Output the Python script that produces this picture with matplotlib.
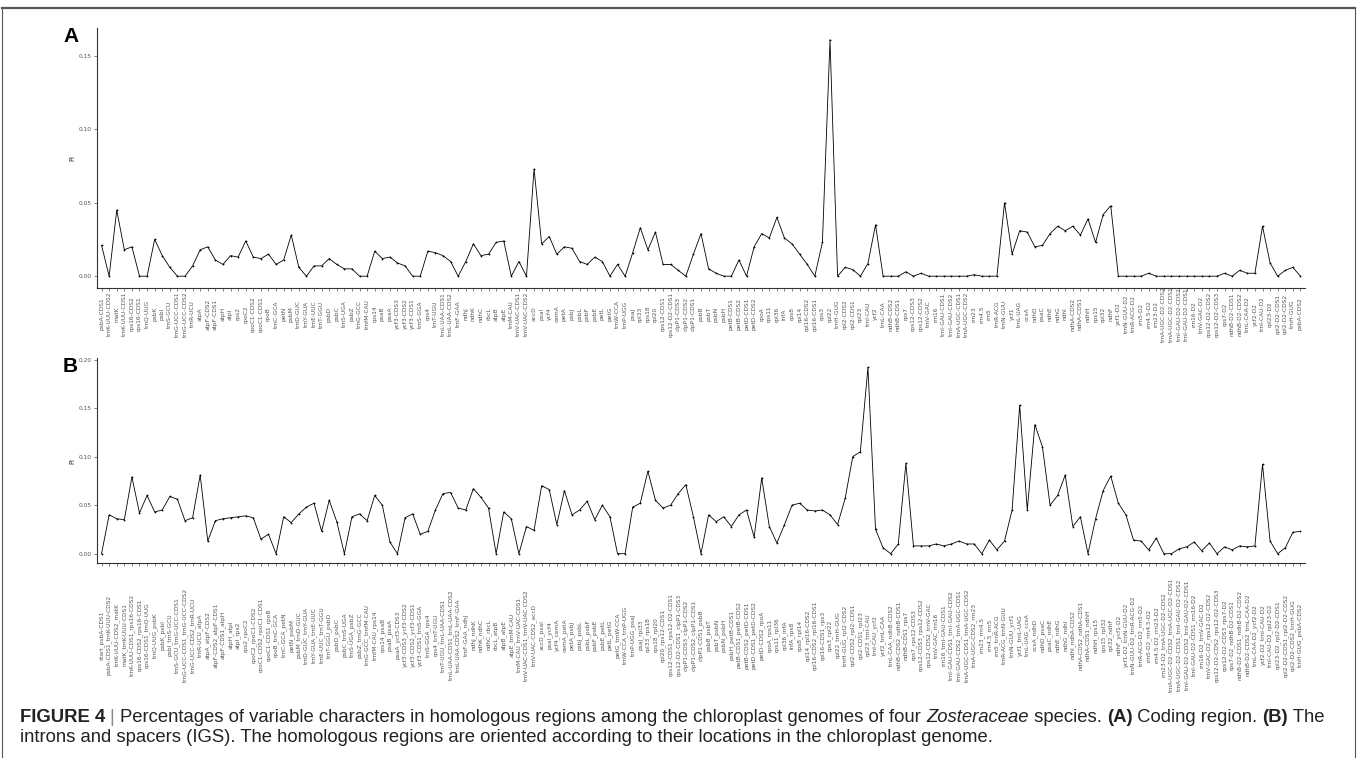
import matplotlib
matplotlib.use("Agg")
import matplotlib.pyplot as plt
import matplotlib.transforms as mtransforms
from matplotlib.lines import Line2D

# gene order along the chloroplast genome (panel A tick labels)
genes = [
    "psbA-CDS1", "trnK-UUU-CDS2", "matK", "trnK-UUU-CDS1", "rps16-CDS2", "rps16-CDS1", "trnQ-UUG",
    "psbK", "psbI", "trnS-GCU", "trnG-UCC-CDS1", "trnG-UCC-CDS2", "trnR-UCU", "atpA", "atpF-CDS2",
    "atpF-CDS1", "atpH", "atpI", "rps2", "rpoC2", "rpoC1-CDS2", "rpoC1-CDS1", "rpoB", "trnC-GCA",
    "petN", "psbM", "trnD-GUC", "trnY-GUA", "trnE-UUC", "trnT-GGU", "psbD", "psbC", "trnS-UGA",
    "psbZ", "trnG-GCC", "trnfM-CAU", "rps14", "psaB", "psaA", "ycf3-CDS3", "ycf3-CDS2", "ycf3-CDS1",
    "trnS-GGA", "rps4", "trnT-UGU", "trnL-UAA-CDS1", "trnL-UAA-CDS2", "trnF-GAA", "ndhJ", "ndhK",
    "ndhC", "rbcL", "atpB", "atpE", "trnM-CAU", "trnV-UAC-CDS1", "trnV-UAC-CDS2", "accD", "psaI",
    "ycf4", "cemA", "petA", "psbJ", "psbL", "psbF", "psbE", "petL", "petG", "trnW-CCA", "trnP-UGG",
    "psaJ", "rpl33", "rps18", "rpl20", "rps12-CDS1", "rps12-D2-CDS1", "clpP1-CDS3", "clpP1-CDS2",
    "clpP1-CDS1", "psbB", "psbT", "psbN", "psbH", "petB-CDS1", "petB-CDS2", "petD-CDS1", "petD-CDS2",
    "rpoA", "rps11", "rpl36", "infA", "rps8", "rpl14", "rpl16-CDS2", "rpl16-CDS1", "rps3", "rpl22",
    "trnH-GUG", "rpl2-CDS2", "rpl2-CDS1", "rpl23", "trnI-CAU", "ycf2", "trnL-CAA", "ndhB-CDS2",
    "ndhB-CDS1", "rps7", "rps12-CDS3", "rps12-CDS2", "trnV-GAC", "rrn16", "trnI-GAU-CDS1",
    "trnI-GAU-CDS2", "trnA-UGC-CDS1", "trnA-UGC-CDS2", "rrn23", "rrn4.5", "rrn5", "trnR-ACG",
    "trnN-GUU", "ycf1", "trnL-UAG", "ccsA", "ndhD", "psaC", "ndhE", "ndhG", "ndhI", "ndhA-CDS2",
    "ndhA-CDS1", "ndhH", "rps15", "rpl32", "ndhF", "ycf1-D2", "trnN-GUU-D2", "trnR-ACG-D2",
    "rrn5-D2", "rrn4.5-D2", "rrn23-D2", "trnA-UGC-D2-CDS2", "trnA-UGC-D2-CDS1", "trnI-GAU-D2-CDS2",
    "trnI-GAU-D2-CDS1", "rrn16-D2", "trnV-GAC-D2", "rps12-D2-CDS2", "rps12-D2-CDS3", "rps7-D2",
    "ndhB-D2-CDS1", "ndhB-D2-CDS2", "trnL-CAA-D2", "ycf2-D2", "trnI-CAU-D2", "rpl23-D2",
    "rpl2-D2-CDS1", "rpl2-D2-CDS2", "trnH-GUG", "psbA-CDS2",
]

# intergenic regions (panel B tick labels): pairs of neighbouring genes
igs = ["start_" + genes[0]] + [a + "_" + b for a, b in zip(genes[:-1], genes[1:])]

# Pi values, coding regions
pi_coding = [
    0.021, 0, 0.045, 0.018, 0.02, 0, 0, 0.025, 0.014, 0.006,
    0, 0, 0.007, 0.018, 0.02, 0.011, 0.008, 0.014, 0.013, 0.024,
    0.013, 0.012, 0.015, 0.008, 0.011, 0.028, 0.006, 0, 0.007, 0.007,
    0.012, 0.008, 0.005, 0.005, 0, 0, 0.017, 0.012, 0.013, 0.009,
    0.007, 0, 0, 0.017, 0.016, 0.014, 0.01, 0, 0.01, 0.022,
    0.014, 0.015, 0.023, 0.024, 0, 0.01, 0, 0.073, 0.022, 0.027,
    0.015, 0.02, 0.019, 0.01, 0.008, 0.013, 0.01, 0, 0.008, 0,
    0.016, 0.033, 0.018, 0.03, 0.008, 0.008, 0.004, 0, 0.015, 0.029,
    0.005, 0.002, 0, 0, 0.011, 0, 0.02, 0.029, 0.026, 0.04,
    0.026, 0.022, 0.015, 0.008, 0, 0.023, 0.161, 0, 0.006, 0.0045,
    0, 0.0086, 0.035, 0, 0, 0, 0.003, 0, 0.002, 0,
    0, 0, 0, 0, 0, 0.001, 0, 0, 0, 0.05,
    0.015, 0.031, 0.03, 0.02, 0.021, 0.029, 0.034, 0.031, 0.034, 0.028,
    0.039, 0.023, 0.042, 0.048, 0, 0, 0, 0, 0.002, 0,
    0, 0, 0, 0, 0, 0, 0, 0, 0.002, 0,
    0.004, 0.002, 0.002, 0.034, 0.009, 0, 0.004, 0.006, 0,
]

# Pi values, introns and spacers
pi_igs = [
    0.0, 0.04, 0.036, 0.035, 0.079, 0.042, 0.06, 0.043, 0.045, 0.059,
    0.056, 0.034, 0.037, 0.081, 0.013, 0.034, 0.036, 0.037, 0.038, 0.039,
    0.037, 0.015, 0.02, 0.0, 0.038, 0.032, 0.041, 0.048, 0.052, 0.023,
    0.055, 0.033, 0.0, 0.038, 0.041, 0.034, 0.06, 0.05, 0.012, 0.0,
    0.037, 0.041, 0.02, 0.023, 0.045, 0.062, 0.063, 0.047, 0.045, 0.067,
    0.058, 0.047, 0.0, 0.043, 0.036, 0.0, 0.028, 0.024, 0.07, 0.066,
    0.03, 0.065, 0.04, 0.045, 0.054, 0.035, 0.05, 0.038, 0.0, 0.0,
    0.048, 0.052, 0.085, 0.055, 0.047, 0.05, 0.062, 0.071, 0.038, 0.0,
    0.04, 0.033, 0.038, 0.028, 0.04, 0.045, 0.017, 0.078, 0.028, 0.011,
    0.03, 0.05, 0.052, 0.045, 0.044, 0.045, 0.04, 0.03, 0.057, 0.1,
    0.105, 0.192, 0.025, 0.006, 0.0, 0.01, 0.093, 0.008, 0.008, 0.008,
    0.01, 0.008, 0.01, 0.013, 0.01, 0.01, 0.0, 0.014, 0.004, 0.013,
    0.045, 0.153, 0.045, 0.133, 0.11, 0.05, 0.06, 0.081, 0.028, 0.038,
    0.0, 0.036, 0.065, 0.08, 0.052, 0.04, 0.014, 0.013, 0.004, 0.016,
    0.0, 0.0, 0.005, 0.007, 0.012, 0.003, 0.011, 0.0, 0.007, 0.004,
    0.008, 0.007, 0.008, 0.092, 0.013, 0.0, 0.006, 0.022, 0.023,
]

W, H = 1358, 758
fig = plt.figure(figsize=(W / 100, H / 100), dpi=100)


def box(l, t, r, b):
    return [l / W, 1 - b / H, (r - l) / W, (b - t) / H]


def panel(rect, labels, vals, yticks, letter, lab_off):
    ax = fig.add_axes(rect)
    x = list(range(len(vals)))
    ax.plot(x, vals, color="black", lw=0.6, marker="o", ms=1.3, mew=0)
    n = len(vals)
    ax.set_xlim(-0.6, n - 0.4)
    lo, hi = min(vals), max(vals)
    ax.set_ylim(lo - 0.05 * (hi - lo), hi + 0.05 * (hi - lo))
    ax.set_yticks(yticks)
    ax.set_yticklabels(["%.2f" % v for v in yticks])
    ax.set_xticks(x)
    ax.set_xticklabels([])
    for s in ["top", "right"]:
        ax.spines[s].set_visible(False)
    for s in ["left", "bottom"]:
        ax.spines[s].set_linewidth(0.8)
        ax.spines[s].set_color("#333333")
    ax.tick_params(length=2.5, width=0.5, color="#555555", labelsize=4.2,
                   labelcolor="#555555", pad=1.5)
    ax.set_ylabel("Pi", fontsize=5, color="#333333", labelpad=2)
    # rotated, centred tick labels like ggplot's angle=90, hjust=0.5
    tr = mtransforms.offset_copy(ax.get_xaxis_transform(), fig=fig, y=-lab_off, units="dots")
    for xi, lab in zip(x, labels):
        ax.text(xi, 0, lab, transform=tr, rotation=90, ha="center", va="center",
                fontsize=4.2, color="#555555")
    fig.text(rect[0] - 34 / W, rect[1] + rect[3] - 8 / H, letter, fontsize=15,
             fontweight="bold", family="Liberation Sans", ha="left", va="center")
    return ax


panel(box(97, 28, 1305, 288), genes, pi_coding, [0.00, 0.05, 0.10, 0.15], "A", 26)
panel(box(97, 358, 1305, 563), igs, pi_igs, [0.00, 0.05, 0.10, 0.15, 0.20], "B", 72)

# frame around the figure
frame_kw = dict(transform=fig.transFigure, color="#555555")
fig.add_artist(Line2D([2 / W, 1355 / W], [1 - 8 / H, 1 - 8 / H], lw=1.6, **frame_kw))
fig.add_artist(Line2D([2 / W, 2 / W], [1 - 8 / H, 0], lw=0.8, **frame_kw))
fig.add_artist(Line2D([1355 / W, 1355 / W], [1 - 8 / H, 0], lw=0.8, **frame_kw))

# caption, drawn piece by piece
cap_font = ["Liberation Sans", "DejaVu Sans"]
fig.canvas.draw()
renderer = fig.canvas.get_renderer()


def caption_line(pieces, x0, y):
    x = x0
    for s, weight, style, col in pieces:
        t = fig.text(x / W, 1 - y / H, s, fontsize=13.3, fontweight=weight, fontstyle=style,
                     family=cap_font, color=col, ha="left", va="center")
        x += t.get_window_extent(renderer).width


caption_line([
    ("FIGURE 4 ", "bold", "normal", "#222222"),
    ("| ", "normal", "normal", "#888888"),
    ("Percentages of variable characters in homologous regions among the chloroplast genomes of four ",
     "normal", "normal", "#222222"),
    ("Zosteraceae", "normal", "italic", "#222222"),
    (" species. ", "normal", "normal", "#222222"),
    ("(A)", "bold", "normal", "#222222"),
    (" Coding region. ", "normal", "normal", "#222222"),
    ("(B)", "bold", "normal", "#222222"),
    (" The", "normal", "normal", "#222222"),
], 20, 717)
caption_line([
    ("introns and spacers (IGS). The homologous regions are oriented according to their locations "
     "in the chloroplast genome.", "normal", "normal", "#222222"),
], 20, 737)

fig.savefig("out.png", dpi=100)
